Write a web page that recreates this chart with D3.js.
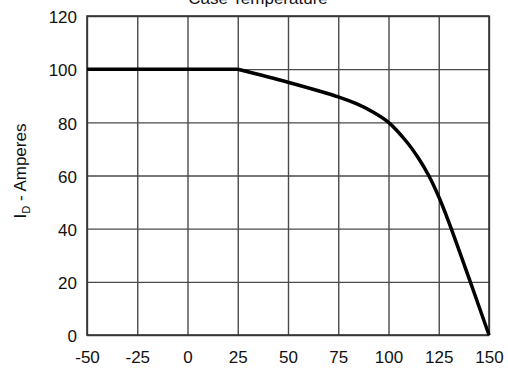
<!DOCTYPE html>
<html>
<head>
<meta charset="utf-8">
<script src="https://cdn.jsdelivr.net/npm/d3@7"></script>
<style>
  body { margin: 0; background: #fff; }
  text { font-family: Arial, "Liberation Sans", sans-serif; fill: #111; }
</style>
</head>
<body>
<div id="chart"></div>
<script>
// case temperature (C) vs drain current (A)
var temps   = [-50, 25, 50, 75, 84, 92, 100, 109, 115, 120, 125, 130, 140, 150];
var current = [100, 100, 95.1, 89.6, 87, 84, 80, 72.7, 66.4, 60, 52, 42.5, 21.5, 0];
var xTicks = [-50, -25, 0, 25, 50, 75, 100, 125, 150];
var yTicks = [0, 20, 40, 60, 80, 100, 120];

plot_derating(temps, current, "#chart");

function plot_derating(xs, ys, htmlObjectId) {
    var width = 508, height = 369;
    var left = 87, right = 489, top = 16, bottom = 335;

    var x = d3.scaleLinear().domain([-50, 150]).range([left, right]);
    var y = d3.scaleLinear().domain([0, 120]).range([bottom, top]);
    var plain = function(d) { return String(d); };

    var svg = d3.select(htmlObjectId)
                .append("svg")
                .attr("width", width)
                .attr("height", height);

    // grid
    var xGrid = d3.axisBottom(x).tickValues(xTicks).tickSize(-(bottom - top)).tickFormat("");
    var yGrid = d3.axisLeft(y).tickValues(yTicks).tickSize(-(right - left)).tickFormat("");
    svg.append("g").attr("transform", "translate(0," + bottom + ")").call(xGrid)
        .call(function(g) { g.select(".domain").remove(); })
        .selectAll("line").attr("stroke", "#4a4a4a").attr("stroke-width", 1.4);
    svg.append("g").attr("transform", "translate(" + left + ",0)").call(yGrid)
        .call(function(g) { g.select(".domain").remove(); })
        .selectAll("line").attr("stroke", "#4a4a4a").attr("stroke-width", 1.4);

    svg.append("rect")
        .attr("x", left).attr("y", top)
        .attr("width", right - left).attr("height", bottom - top)
        .attr("fill", "none").attr("stroke", "#333").attr("stroke-width", 1.6);

    // tick labels
    var xAxis = d3.axisBottom(x).tickValues(xTicks).tickFormat(plain).tickSize(0).tickPadding(16);
    svg.append("g").attr("transform", "translate(0," + bottom + ")").call(xAxis)
        .call(function(g) { g.select(".domain").remove(); })
        .selectAll("text").attr("font-size", 17).attr("font-family", "Arial, 'Liberation Sans', sans-serif").attr("fill", "#111");

    var yAxis = d3.axisLeft(y).tickValues(yTicks).tickFormat(plain).tickSize(0).tickPadding(10);
    svg.append("g").attr("transform", "translate(" + left + ",0)").call(yAxis)
        .call(function(g) { g.select(".domain").remove(); })
        .selectAll("text").attr("font-size", 17).attr("font-family", "Arial, 'Liberation Sans', sans-serif").attr("fill", "#111")
        .attr("dy", "0.4em");

    // flat part, then the derating curve from 25 C
    var pts = xs.map(function(d, i) { return [x(d), y(ys[i])]; });
    var flat = d3.line();
    var curve = d3.line().curve(d3.curveCatmullRom.alpha(0.5));
    svg.append("path")
        .attr("d", flat(pts.slice(0, 2)) + curve(pts.slice(1)).replace(/^M[^A-Za-z]*/, "L" + pts[1].join(",")))
        .attr("fill", "none")
        .attr("stroke", "#000")
        .attr("stroke-width", 3.5)
        .attr("stroke-linejoin", "round");

    // titles
    svg.append("text")
        .attr("x", 258).attr("y", 4)
        .attr("text-anchor", "middle")
        .attr("font-size", 17)
        .text("Case Temperature");

    var yt = svg.append("text")
        .attr("transform", "translate(26,171) rotate(-90)")
        .attr("text-anchor", "middle")
        .attr("font-size", 17);
    yt.append("tspan").text("I");
    yt.append("tspan").attr("font-size", 11).attr("dy", 4).text("D");
    yt.append("tspan").attr("dy", -4).text(" - Amperes");
}
</script>
</body>
</html>
